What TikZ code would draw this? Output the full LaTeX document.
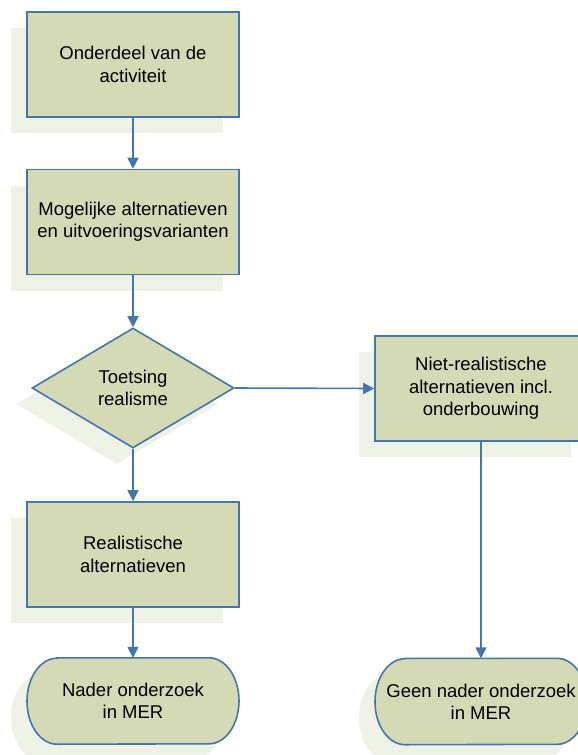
\documentclass[tikz,border=0pt]{standalone}
\usepackage{fontspec}
\setmainfont{Liberation Sans}
\usetikzlibrary{shapes.geometric,arrows.meta,shadows,backgrounds}
\definecolor{vak}{RGB}{211,218,181}
\definecolor{rand}{RGB}{68,118,172}
\definecolor{schaduwkleur}{RGB}{238,241,229}
\begin{document}
\begin{tikzpicture}[x=1pt,y=-1pt,
		font=\fontsize{18.5}{22.3}\selectfont,
		metschaduw/.style={drop shadow={shadow xshift=-16pt,shadow yshift=-16pt,fill=schaduwkleur,opacity=1}},
		blok/.style={rectangle,draw=rand,fill=vak,line width=1.6pt,minimum width=212pt,minimum height=105pt,inner sep=0pt,align=center,metschaduw},
		keuze/.style={diamond,draw=rand,fill=vak,line width=1.6pt,minimum width=202pt,minimum height=120pt,inner sep=0pt,align=center,metschaduw},
		eind/.style={minimum width=212pt,minimum height=86pt,inner sep=0pt,align=center},
		pijl/.style={draw=rand,line width=1.6pt,-{Triangle[length=11pt,width=11pt]}}]
	\useasboundingbox (0,0) rectangle (578,755);
	\node[blok] (onderdeel) at (133,64.5) {Onderdeel van de\\activiteit};
	\node[blok] (mogelijk) at (133,222) {Mogelijke alternatieven\\en uitvoeringsvarianten};
	\node[keuze] (toets) at (133,388) {Toetsing\\realisme};
	\node[blok] (niet) at (481,388.5) {Niet-realistische\\alternatieven incl.\\onderbouwing};
	\node[blok] (real) at (133,554.5) {Realistische\\alternatieven};
	\node[eind] (nader) at (133,701) {Nader onderzoek\\in MER};
	\node[eind] (geen) at (481,701.5) {Geen nader onderzoek\\in MER};
	% eindvormen met elliptische uiteinden
	\begin{scope}[on background layer]
		\foreach \t in {nader,geen} {
			\fill[schaduwkleur,transform canvas={shift={(-16pt,-16pt)}}] ([xshift=-76pt]\t.north) -- ([xshift=76pt]\t.north)
				arc[start angle=90,end angle=-90,x radius=30pt,y radius=43pt] -- ([xshift=-76pt]\t.south)
				arc[start angle=270,end angle=90,x radius=30pt,y radius=43pt] -- cycle;
			\filldraw[fill=vak,draw=rand,line width=1.6pt] ([xshift=-76pt]\t.north) -- ([xshift=76pt]\t.north)
				arc[start angle=90,end angle=-90,x radius=30pt,y radius=43pt] -- ([xshift=-76pt]\t.south)
				arc[start angle=270,end angle=90,x radius=30pt,y radius=43pt] -- cycle;
		}
	\end{scope}
	\draw[pijl] (onderdeel) -- (mogelijk);
	\draw[pijl] (mogelijk) -- (toets);
	\draw[pijl] (toets.east) -- (niet.west);
	\draw[pijl] (toets) -- (real);
	\draw[pijl] (real) -- (nader);
	\draw[pijl] (niet) -- (geen);
\end{tikzpicture}
\end{document}
